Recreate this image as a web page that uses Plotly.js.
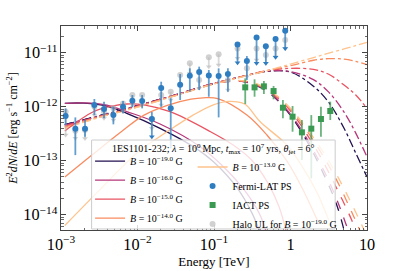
<!DOCTYPE html>
<html><head><meta charset="utf-8">
<script src="https://cdn.plot.ly/plotly-3.0.1.min.js"></script>
<style>html,body{margin:0;padding:0;background:#fff}#chart{width:407px;height:271px}</style>
</head><body><div id="chart"></div>
<script>
// ---------- Data ----------
// Fermi-LAT point-source spectrum (TeV, erg s^-1 cm^-2)
const fermiE  = [0.00115,0.00154,0.00206,0.00273,0.00365,0.00484,0.00647,0.00857,0.0115,0.0154,0.0204,0.0272,0.0361,0.0483,0.0640,0.0855,0.115,0.152,0.203,0.269,0.360,0.476,0.638,0.853];
const fermiF  = [6.71e-13,3.92e-13,3.92e-13,1.07e-12,9.06e-13,7.0e-13,1.0e-12,1.29e-12,1.27e-12,5.92e-13,2.22e-12,9.31e-13,2.55e-12,3.75e-12,4.39e-12,3.80e-12,3.70e-12,4.03e-12,1.41e-11,7.02e-12,1.92e-11,1.31e-11,1.79e-11,2.55e-11];
const fermiHi = [9.31e-13,6.34e-13,5.66e-13,1.39e-12,1.24e-12,1.0e-12,1.27e-12,1.64e-12,1.64e-12,7.96e-13,2.90e-12,1.43e-12,4.03e-12,5.13e-12,5.51e-12,4.78e-12,5.13e-12,5.13e-12,1.41e-11,8.67e-12,1.92e-11,1.31e-11,1.79e-11,2.55e-11];
const fermiLo = [4.57e-13,1.27e-13,2.78e-13,7.0e-13,6.08e-13,4.71e-13,7.53e-13,9.73e-13,9.31e-13,2.78e-13,1.0e-12,1.69e-13,1.33e-12,1.90e-12,2.04e-12,1.53e-12,6.34e-13,1.90e-12,6.53e-12,3.12e-12,6.34e-12,6.34e-12,8.20e-12,1.20e-11];
const fermiUL = [0,0,0,0,0,0,0,0,0,1,0,0,0,0,0,0,0,0,1,0,1,1,1,1];

// Halo upper limits for B = 1e-19 G
const haloF  = [8.07e-13,3.6e-13,3.7e-13,1.0e-12,8.07e-13,9.31e-13,1.15e-12,1.64e-12,1.64e-12,5.9e-13,1.64e-12,1.90e-12,3.85e-12,6.34e-12,3.12e-12,8.20e-12,9.31e-12,3.12e-12,1.20e-11,5.13e-12,1.20e-11,9.05e-12,1.20e-11,1.72e-11];
const haloLo = [2.99e-13,2.6e-13,2.59e-13,7.0e-13,6.08e-13,5.66e-13,8.07e-13,1.07e-12,1.07e-12,4.0e-13,1.07e-12,1.33e-12,2.52e-12,4.14e-12,2.19e-12,5.51e-12,5.91e-12,2.04e-12,7.85e-12,3.60e-12,7.31e-12,6.34e-12,8.43e-12,1.20e-11];

// IACT point-source spectrum
const iactE  = [0.256,0.339,0.449,0.601,0.796,1.064,1.41,1.87,2.50,3.31];
const iactF  = [2.28e-12,2.28e-12,2.38e-12,1.95e-12,9.57e-13,6.53e-13,3.35e-13,3.92e-13,5.92e-13,8.32e-13];
const iactHi = [3.35e-12,3.21e-12,2.99e-12,2.42e-12,1.33e-12,1.03e-12,5.66e-13,7.0e-13,1.0e-12,1.24e-12];
const iactLo = [1.12e-12,1.53e-12,1.72e-12,1.37e-12,6.08e-13,3.44e-13,1.03e-13,4.71e-14,2.78e-13,5.66e-13];

// Model curves, stored as log10(E/TeV) and log10(flux)
// cascade (solid)
const cascB19_logE = [-2.95,-2.7,-2.4,-2.14,-1.705,-1.27,-1.0,-0.7,-0.5,-0.38];
const cascB19_logF = [-11.937,-11.935,-11.99,-12.123,-12.40,-12.74,-13.03,-13.50,-13.98,-14.40];
const cascB16_logE = [-2.95,-2.7,-2.4,-2.14,-1.705,-1.18,-0.9,-0.6,-0.4,-0.3];
const cascB16_logF = [-11.94,-11.93,-11.97,-12.09,-12.32,-12.74,-13.08,-13.55,-14.0,-14.40];
const cascB15_logE = [-2.95,-2.577,-2.3,-2.14,-1.9,-1.574,-1.05,-0.749,-0.5,-0.3,-0.15,-0.04];
const cascB15_logF = [-12.45,-12.093,-11.98,-11.95,-11.97,-12.093,-12.46,-12.71,-13.0,-13.4,-13.85,-14.40];
const cascB14_logE = [-2.95,-2.6,-2.2,-1.92,-1.6,-1.3,-1.14,-0.95,-0.57,-0.308,-0.05,0.15,0.35];
const cascB14_logF = [-13.30,-12.90,-12.45,-12.16,-11.97,-11.86,-11.835,-11.85,-12.155,-12.525,-13.0,-13.5,-14.1];
const cascB13_logE = [-2.95,-2.5,-2.0,-1.6,-1.273,-1.0,-0.8,-0.6,-0.396,-0.047,0.15,0.35,0.5];
const cascB13_logF = [-14.20,-13.55,-12.85,-12.45,-12.155,-11.96,-11.90,-11.95,-12.28,-12.71,-13.1,-13.6,-14.1];
// observed point source (dashed)
const obsB19_logE = [-2.95,-2.5,-2.0,-1.5,-1.0,-0.8,-0.6,-0.4,-0.2,0,0.2,0.4,0.6,0.72];
const obsB19_logF = [-12.33,-12.17,-11.98,-11.78,-11.57,-11.53,-11.54,-11.64,-11.84,-12.16,-12.6,-13.15,-13.8,-14.4];
const obsB16_logE = [-2.95,-2.5,-2.0,-1.5,-1.0,-0.8,-0.6,-0.4,-0.2,0,0.2,0.4,0.6,0.78];
const obsB16_logF = [-12.34,-12.175,-11.985,-11.78,-11.57,-11.53,-11.535,-11.63,-11.83,-12.14,-12.56,-13.08,-13.7,-14.4];
const obsB15_logE = [-2.95,-2.5,-2.0,-1.5,-1.0,-0.8,-0.6,-0.4,-0.2,0,0.2,0.4,0.6,0.8,0.88];
const obsB15_logF = [-12.36,-12.18,-11.99,-11.785,-11.57,-11.525,-11.53,-11.62,-11.80,-12.08,-12.48,-12.95,-13.5,-14.1,-14.4];
const obsB14_logE = [-2.95,-2.5,-2.0,-1.5,-1.0,-0.8,-0.6,-0.4,-0.2,0,0.2,0.4,0.6,0.8,0.94];
const obsB14_logF = [-12.38,-12.19,-12.0,-11.79,-11.575,-11.525,-11.525,-11.61,-11.78,-12.05,-12.42,-12.85,-13.35,-13.95,-14.4];
const obsB13_logE = [-2.95,-2.5,-2.0,-1.5,-1.0,-0.8,-0.6,-0.4,-0.2,0,0.2,0.4,0.6,0.8,1.0];
const obsB13_logF = [-12.40,-12.20,-12.01,-11.795,-11.58,-11.525,-11.52,-11.60,-11.77,-12.03,-12.38,-12.78,-13.25,-13.8,-14.4];
// intrinsic (dash-dot)
const intr_logE  = [-2.95,-2.5,-2.0,-1.5,-1.0,-0.6,-0.3,0,0.3,0.5,0.7,0.85,1.0];
const intrB19_logF = [-12.33,-12.17,-11.98,-11.78,-11.57,-11.43,-11.345,-11.36,-11.62,-11.92,-12.4,-12.85,-13.3];
const intrB16_logF = [-12.34,-12.175,-11.985,-11.78,-11.57,-11.43,-11.34,-11.35,-11.5,-11.73,-12.1,-12.48,-12.93];
const intrB15_logF = [-12.36,-12.18,-11.99,-11.785,-11.57,-11.43,-11.33,-11.29,-11.31,-11.40,-11.6,-11.78,-12.03];
const intrB14_logF = [-12.38,-12.19,-12.0,-11.79,-11.575,-11.43,-11.33,-11.24,-11.14,-11.11,-11.12,-11.16,-11.22];
const intrB13_logF = [-12.40,-12.20,-12.01,-11.795,-11.58,-11.44,-11.33,-11.21,-11.09,-11.01,-10.93,-10.87,-10.81];

const bLabels = ['<i>B</i> = 10<sup>−19.0</sup> G','<i>B</i> = 10<sup>−16.0</sup> G','<i>B</i> = 10<sup>−15.0</sup> G','<i>B</i> = 10<sup>−14.0</sup> G','<i>B</i> = 10<sup>−13.0</sup> G'];
const bColors = ['#221150','#b5367a','#e95462','#f98b5f','#fec38c'];

// ---------- Build traces ----------
const P = a => a.map(v => Math.pow(10, v));
const casc = [[cascB19_logE,cascB19_logF],[cascB16_logE,cascB16_logF],[cascB15_logE,cascB15_logF],[cascB14_logE,cascB14_logF],[cascB13_logE,cascB13_logF]];
const obs  = [[obsB19_logE,obsB19_logF],[obsB16_logE,obsB16_logF],[obsB15_logE,obsB15_logF],[obsB14_logE,obsB14_logF],[obsB13_logE,obsB13_logF]];
const intr = [intrB19_logF,intrB16_logF,intrB15_logF,intrB14_logF,intrB13_logF];

const traces = [];
for (let i = 0; i < 5; i++) {
  traces.push({x:P(intr_logE), y:P(intr[i]), mode:'lines', showlegend:false, hoverinfo:'skip',
    line:{color:bColors[i], width:1.3, dash:'dashdot', shape:'spline', smoothing:1}});
}
for (let i = 0; i < 5; i++) {
  traces.push({x:P(obs[i][0]), y:P(obs[i][1]), mode:'lines', showlegend:false, hoverinfo:'skip',
    line:{color:bColors[i], width:1.3, dash:'dash', shape:'spline', smoothing:1}});
}
for (let i = 0; i < 5; i++) {
  traces.push({x:P(casc[i][0]), y:P(casc[i][1]), mode:'lines', name:bLabels[i],
    legend: i < 4 ? 'legend' : 'legend2', legendrank: i < 4 ? i+1 : 1,
    line:{color:bColors[i], width:1.3, shape:'spline', smoothing:1}});
}
// Halo UL (grey)
traces.push({x:fermiE, y:haloF, mode:'markers', name:'Halo UL for <i>B</i> = 10<sup>−19.0</sup> G',
  legend:'legend2', legendrank:4,
  marker:{color:'rgba(185,185,185,0.65)', size:6},
  error_y:{type:'data', symmetric:false, array:haloF.map(()=>0), arrayminus:haloF.map((v,i)=>v-haloLo[i]),
    color:'rgba(185,185,185,0.55)', thickness:1.8, width:0}});
traces.push({x:fermiE, y:haloLo, mode:'markers', showlegend:false, hoverinfo:'skip',
  marker:{color:'rgba(185,185,185,0.65)', size:5, symbol:'triangle-down'}});
// Fermi-LAT
traces.push({x:fermiE, y:fermiF, mode:'markers', name:'Fermi-LAT PS', legend:'legend2', legendrank:2,
  marker:{color:'#2f7dc1', size:6},
  error_y:{type:'data', symmetric:false, array:fermiF.map((v,i)=>fermiHi[i]-v), arrayminus:fermiF.map((v,i)=>v-fermiLo[i]),
    color:'rgba(47,125,193,0.75)', thickness:1.8, width:0}});
traces.push({x:fermiE.filter((v,i)=>fermiUL[i]), y:fermiLo.filter((v,i)=>fermiUL[i]), mode:'markers', showlegend:false, hoverinfo:'skip',
  marker:{color:'#2f7dc1', size:5, symbol:'triangle-down'}});
// IACT
traces.push({x:iactE, y:iactF, mode:'markers', name:'IACT PS', legend:'legend2', legendrank:3,
  marker:{color:'#3a9a52', size:6, symbol:'square'},
  error_y:{type:'data', symmetric:false, array:iactF.map((v,i)=>iactHi[i]-v), arrayminus:iactF.map((v,i)=>v-iactLo[i]),
    color:'rgba(58,154,82,0.75)', thickness:1.8, width:0}});

const FONT = '"Liberation Serif", "Times New Roman", Times, serif';
const axCol = '#444';
const axisBase = {type:'log', dtick:1, exponentformat:'power', showgrid:false, zeroline:false,
  ticks:'inside', ticklen:5, tickwidth:1, tickcolor:axCol, mirror:'ticks', showline:true, linecolor:axCol, linewidth:1,
  minor:{ticks:'inside', ticklen:2.5, tickwidth:0.8, tickcolor:axCol, dtick:'D1', showgrid:false},
  tickfont:{family:FONT, size:13, color:'#000'}};

const layout = {
  width:407, height:271,
  margin:{l:61, r:40, t:26, b:41},
  font:{family:FONT, size:12, color:'#000'},
  paper_bgcolor:'#fff', plot_bgcolor:'#fff',
  showlegend:true,
  xaxis:Object.assign({}, axisBase, {range:[-3,1], title:{text:'Energy [TeV]', font:{family:FONT, size:13}, standoff:2}}),
  yaxis:Object.assign({}, axisBase, {range:[-14.283,-10.506],
    title:{text:'<i>E</i><sup>2</sup><i>dN</i>/<i>dE</i> [erg s<sup>−1</sup> cm<sup>−2</sup>]', font:{family:FONT, size:12}, standoff:3}}),
  shapes:[{type:'rect', xref:'paper', yref:'paper', x0:0.1, x1:0.896, y0:0.005, y1:0.441,
    fillcolor:'rgba(255,255,255,0.8)', line:{color:'#cccccc', width:1}, layer:'above'}],
  annotations:[{xref:'paper', yref:'paper', x:0.498, y:0.397, xanchor:'center', yanchor:'middle', showarrow:false,
    text:'1ES1101-232; <i>λ</i> = 10<sup>0</sup>\u2009Mpc, <i>t</i><sub>max</sub>\u2009= 10<sup>7</sup>\u2009yrs, <i>θ</i><sub>jet</sub>\u2009= 6°',
    font:{family:FONT, size:10}}],
  legend:{x:0.095, xanchor:'left', y:0.409, yanchor:'top', bgcolor:'rgba(0,0,0,0)', borderwidth:0,
    font:{family:FONT, size:10}, itemwidth:30, traceorder:'normal'},
  legend2:{x:0.43, xanchor:'left', y:0.38, yanchor:'top', bgcolor:'rgba(0,0,0,0)', borderwidth:0,
    font:{family:FONT, size:10}, itemwidth:30, traceorder:'normal'}
};

Plotly.newPlot('chart', traces, layout, {displayModeBar:false, staticPlot:true});
</script>
</body></html>
